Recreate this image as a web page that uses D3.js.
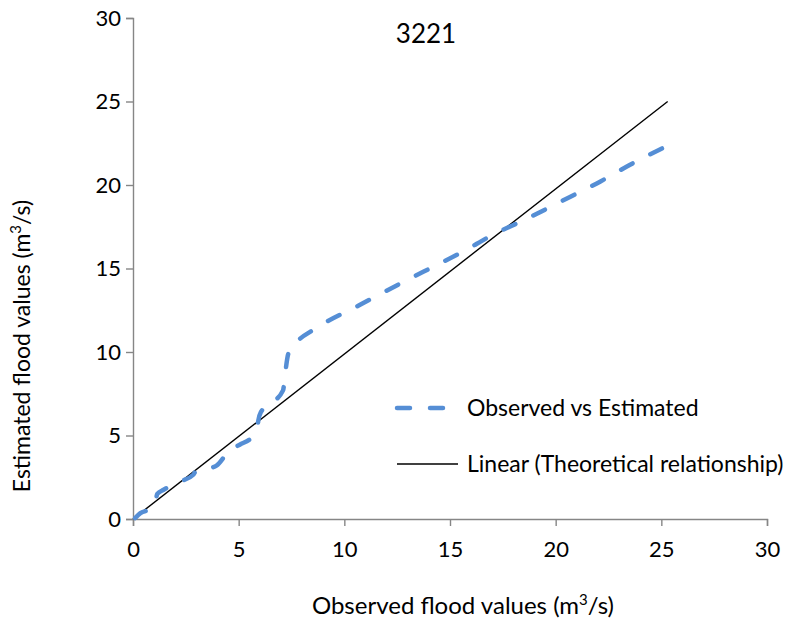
<!DOCTYPE html>
<html>
<head>
<meta charset="utf-8">
<script src="https://cdn.jsdelivr.net/npm/d3@7"></script>
<style>
  html, body { margin: 0; padding: 0; background: #fff; }
  text { font-family: Lato, "Open Sans", sans-serif; fill: #000; }
</style>
</head>
<body>
<svg id="chart" width="798" height="630"></svg>
<script>
// ---- data ----
const title = "3221";
const xTicks = [0, 5, 10, 15, 20, 25, 30];
const yTicks = [0, 5, 10, 15, 20, 25, 30];
const observed = [0.1, 0.35, 0.85, 1.05, 1.15, 1.45, 1.9, 2.25, 2.85, 3.0, 3.65, 3.95, 4.6, 5.05, 5.7, 5.88, 5.93, 6.05, 6.5, 7.1, 7.2, 7.35, 7.75, 8.5, 10.7, 12.8, 14.2, 15.6, 17.0, 18.5, 20.7, 22.1, 23.5, 25.7];
const estimated = [0.05, 0.35, 0.6, 0.95, 1.5, 1.75, 2.05, 2.25, 2.65, 2.9, 3.05, 3.2, 4.15, 4.45, 5.0, 5.4, 5.9, 6.4, 6.9, 7.7, 8.7, 9.9, 10.6, 11.3, 12.8, 14.2, 15.1, 16.0, 17.0, 17.9, 19.3, 20.2, 21.2, 22.6];
const linearX = [0, 25.3];
const linearY = [0, 25.0];
const seriesNames = ["Observed vs Estimated", "Linear (Theoretical relationship)"];

// ---- layout ----
const svg = d3.select("#chart");
const x = d3.scaleLinear().domain([0, 30]).range([133, 767]);
const y = d3.scaleLinear().domain([0, 30]).range([519, 18]);
const axisColor = "#868686";
const blue = "#558ed5";

// axes
const xAxis = svg.append("g").attr("transform", `translate(0,${y(0)})`)
  .call(d3.axisBottom(x).tickValues(xTicks).tickSize(7).tickPadding(15).tickFormat(d3.format("d")));
const yAxis = svg.append("g").attr("transform", `translate(${x(0)},0)`)
  .call(d3.axisLeft(y).tickValues(yTicks).tickSize(7).tickPadding(5).tickFormat(d3.format("d")));
[xAxis, yAxis].forEach(g => {
  g.select(".domain").attr("stroke", axisColor).attr("stroke-width", 1.4);
  g.selectAll(".tick line").attr("stroke", axisColor).attr("stroke-width", 1.4);
  g.selectAll(".tick text").style("font-size", "22px").style("font-family", "Lato, sans-serif").attr("fill", "#000");
});

// linear line
const lin = linearX.map((v, i) => [v, linearY[i]]);
svg.append("path").datum(lin)
  .attr("fill", "none").attr("stroke", "#000").attr("stroke-width", 1.4)
  .attr("d", d3.line().x(d => x(d[0])).y(d => y(d[1])));

// observed vs estimated
const pts = observed.map((v, i) => [v, estimated[i]]);
svg.append("path").datum(pts)
  .attr("fill", "none").attr("stroke", blue).attr("stroke-width", 4.5)
  .attr("stroke-linecap", "round").attr("stroke-dasharray", "13,20")
  .attr("d", d3.line().curve(d3.curveMonotoneX).x(d => x(d[0])).y(d => y(d[1])));

// title
svg.append("text").attr("x", 426).attr("y", 43).attr("text-anchor", "middle")
  .style("font-size", "26px").text(title);

// x-axis title
const xt = svg.append("text").attr("x", 463).attr("y", 614).attr("text-anchor", "middle").style("font-size", "24px");
xt.append("tspan").text("Observed flood values (m");
xt.append("tspan").attr("dy", -9).style("font-size", "15px").text("3");
xt.append("tspan").attr("dy", 9).text("/s)");

// y-axis title
const yt = svg.append("text").attr("transform", "translate(30,346) rotate(-90)").attr("text-anchor", "middle").style("font-size", "23px");
yt.append("tspan").text("Estimated flood values (m");
yt.append("tspan").attr("dy", -9).style("font-size", "15px").text("3");
yt.append("tspan").attr("dy", 9).text("/s)");

// legend
const leg = svg.append("g");
leg.append("line").attr("x1", 397).attr("x2", 446).attr("y1", 408).attr("y2", 408)
  .attr("stroke", blue).attr("stroke-width", 4.5).attr("stroke-linecap", "round").attr("stroke-dasharray", "13,20");
leg.append("text").attr("x", 467).attr("y", 416).style("font-size", "23px").text(seriesNames[0]);
leg.append("line").attr("x1", 397).attr("x2", 458).attr("y1", 464).attr("y2", 464)
  .attr("stroke", "#000").attr("stroke-width", 1.4);
leg.append("text").attr("x", 467).attr("y", 472).style("font-size", "23px").text(seriesNames[1]);
</script>
</body>
</html>
